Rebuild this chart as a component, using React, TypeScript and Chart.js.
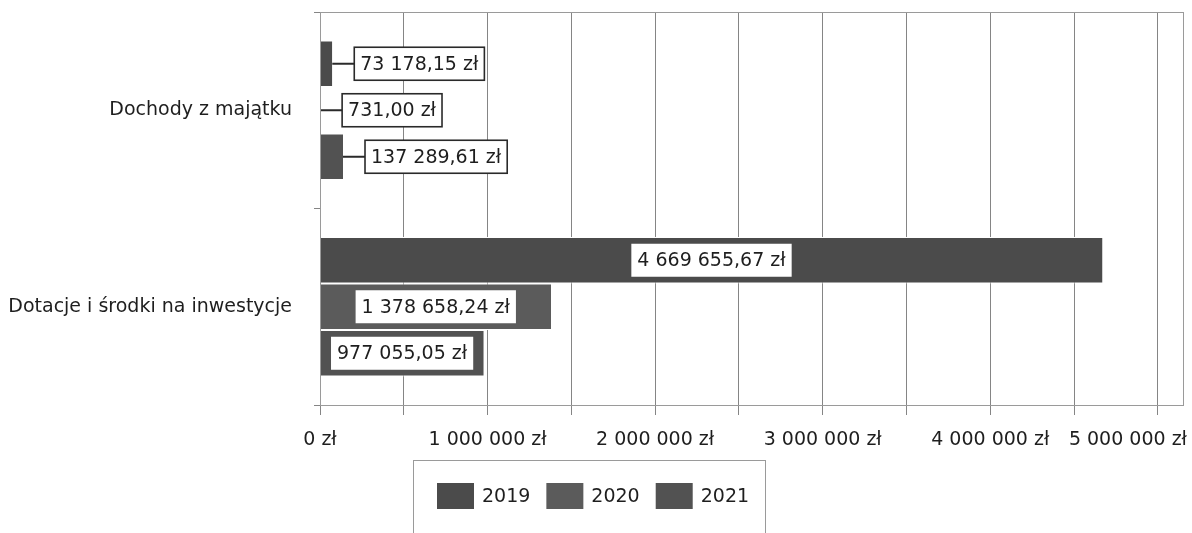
import React, { useEffect, useRef } from "react";
import { Chart, registerables } from "chart.js";

Chart.register(...registerables);

const categories = ["Dochody z majątku", "Dotacje i środki na inwestycje"];
const seriesNames = ["2019", "2020", "2021"];
const values2019 = [73178.15, 4669655.67];
const values2020 = [731.0, 1378658.24];
const values2021 = [137289.61, 977055.05];
const gridValues = [0, 500000, 1000000, 1500000, 2000000, 2500000, 3000000, 3500000, 4000000, 4500000, 5000000];
const xLabelValues = [0, 1000000, 2000000, 3000000, 4000000, 5000000];
const seriesColors = ["#4b4b4b", "#5b5b5b", "#525252"];

const FONT = "'DejaVu Sans', sans-serif";
const TEXT = "#1e1e1e";

function fmt(v: number, decimals: number): string {
  const fixed = v.toFixed(decimals);
  const parts = fixed.split(".");
  const intS = parts[0].replace(/\B(?=(\d{3})+(?!\d))/g, " ");
  return (parts[1] ? intS + "," + parts[1] : intS) + " zł";
}

const framePlugin = {
  id: "frame",
  beforeDraw(chart: any) {
    const ctx = chart.ctx;
    ctx.save();
    ctx.fillStyle = "#ffffff";
    ctx.fillRect(0, 0, chart.width, chart.height);
    ctx.restore();
  },
  afterDraw(chart: any) {
    const ctx = chart.ctx;
    const a = chart.chartArea;
    ctx.save();
    ctx.strokeStyle = "#9a9a9a";
    ctx.lineWidth = 1;
    ctx.strokeRect(a.left + 0.5, a.top + 0.5, a.right - a.left, a.bottom - a.top);
    ctx.restore();
  },
};

const xLabelPlugin = {
  id: "xLabels",
  afterDraw(chart: any) {
    const ctx = chart.ctx;
    const xs = chart.scales.x;
    ctx.save();
    ctx.font = `19px ${FONT}`;
    ctx.fillStyle = TEXT;
    ctx.textAlign = "center";
    ctx.textBaseline = "middle";
    xLabelValues.forEach((v) => {
      const t = fmt(v, 0);
      const w = ctx.measureText(t).width;
      let cx = xs.getPixelForValue(v);
      if (cx + w / 2 > chart.width - 5) cx = chart.width - 5 - w / 2;
      ctx.fillText(t, cx, xs.top + 35);
    });
    ctx.restore();
  },
};

const dataLabelPlugin = {
  id: "dataLabels",
  afterDatasetsDraw(chart: any) {
    const ctx = chart.ctx;
    ctx.save();
    ctx.font = `19px ${FONT}`;
    ctx.textBaseline = "middle";
    ctx.textAlign = "center";
    chart.data.datasets.forEach((ds: any, i: number) => {
      const meta = chart.getDatasetMeta(i);
      meta.data.forEach((bar: any, j: number) => {
        const p = bar.getProps(["x", "y", "base"], true);
        const t = fmt(ds.data[j], 2);
        const tw = ctx.measureText(t).width;
        const bw = tw + 12;
        const bh = 33;
        const barW = p.x - p.base;
        let left: number;
        if (barW > bw + 8) {
          left = (p.x + p.base) / 2 - bw / 2;
          ctx.fillStyle = "#ffffff";
          ctx.fillRect(left, p.y - bh / 2, bw, bh);
        } else {
          left = p.x + 22;
          ctx.strokeStyle = "#2a2a2a";
          ctx.lineWidth = 2;
          ctx.beginPath();
          ctx.moveTo(p.x, p.y);
          ctx.lineTo(left, p.y);
          ctx.stroke();
          ctx.fillStyle = "#ffffff";
          ctx.fillRect(left, p.y - bh / 2, bw, bh);
          ctx.lineWidth = 1.6;
          ctx.strokeRect(left, p.y - bh / 2, bw, bh);
        }
        ctx.fillStyle = TEXT;
        ctx.fillText(t, left + bw / 2, p.y + 1);
      });
    });
    ctx.restore();
  },
};

const legendPlugin = {
  id: "customLegend",
  afterDraw(chart: any) {
    const ctx = chart.ctx;
    const xs = chart.scales.x;
    ctx.save();
    ctx.font = `19px ${FONT}`;
    const sw = 37;
    const sh = 26;
    const gap = 8;
    const itemGap = 16;
    const widths = seriesNames.map((n) => sw + gap + ctx.measureText(n).width);
    const total = widths.reduce((a, b) => a + b, 0) + itemGap * (widths.length - 1);
    const frameW = total + 40;
    const fl = 413;
    const ft = xs.bottom;
    ctx.strokeStyle = "#9a9a9a";
    ctx.lineWidth = 1;
    ctx.strokeRect(fl + 0.5, ft + 0.5, Math.round(frameW), chart.height - ft + 10);
    let x = fl + 24;
    const sy = ft + 23;
    seriesNames.forEach((n, i) => {
      ctx.fillStyle = seriesColors[i];
      ctx.fillRect(x, sy, sw, sh);
      ctx.fillStyle = TEXT;
      ctx.textAlign = "left";
      ctx.textBaseline = "middle";
      ctx.fillText(n, x + sw + gap, sy + sh / 2 + 1);
      x += widths[i] + itemGap;
    });
    ctx.restore();
  },
};

export default function App() {
  const ref = useRef<HTMLCanvasElement>(null);

  useEffect(() => {
    const canvas = ref.current;
    if (!canvas) return;
    const seriesValues = [values2019, values2020, values2021];
    const chart = new Chart(canvas, {
      type: "bar",
      data: {
        labels: categories,
        datasets: seriesNames.map((name, i) => ({
          label: name,
          data: seriesValues[i],
          backgroundColor: seriesColors[i],
          borderColor: "#ffffff",
          borderWidth: { top: 1, bottom: 1, left: 0, right: 0 },
          borderSkipped: false,
          categoryPercentage: 0.71,
          barPercentage: 1.0,
        })),
      },
      options: {
        indexAxis: "y",
        responsive: false,
        animation: false,
        layout: { padding: { top: 12, right: 9, bottom: 73, left: 0 } },
        plugins: {
          legend: { display: false },
          tooltip: { enabled: false },
        },
        scales: {
          x: {
            type: "linear",
            min: 0,
            max: 5150000,
            afterBuildTicks: (scale: any) => {
              scale.ticks = gridValues.map((v) => ({ value: v }));
            },
            afterFit: (scale: any) => {
              scale.height = 55;
              scale.paddingLeft = 0;
              scale.paddingRight = 0;
            },
            ticks: { display: false },
            grid: {
              color: "#858585",
              lineWidth: 1,
              tickLength: 10,
              drawTicks: true,
            },
            border: { display: true, color: "#858585", width: 1 },
          },
          y: {
            type: "category",
            afterFit: (scale: any) => {
              scale.width = 320;
              scale.paddingTop = 0;
              scale.paddingBottom = 0;
            },
            ticks: {
              color: TEXT,
              font: { family: FONT, size: 19 },
              padding: 22,
            },
            grid: {
              drawOnChartArea: false,
              tickLength: 6,
              color: "#858585",
            },
            border: { display: true, color: "#858585", width: 1 },
          },
        },
      },
      plugins: [framePlugin, dataLabelPlugin, xLabelPlugin, legendPlugin],
    } as any);
    return () => chart.destroy();
  }, []);

  return (
    <canvas
      ref={ref}
      width={1192}
      height={533}
      style={{ position: "absolute", left: 0, top: 0, display: "block" }}
    />
  );
}
